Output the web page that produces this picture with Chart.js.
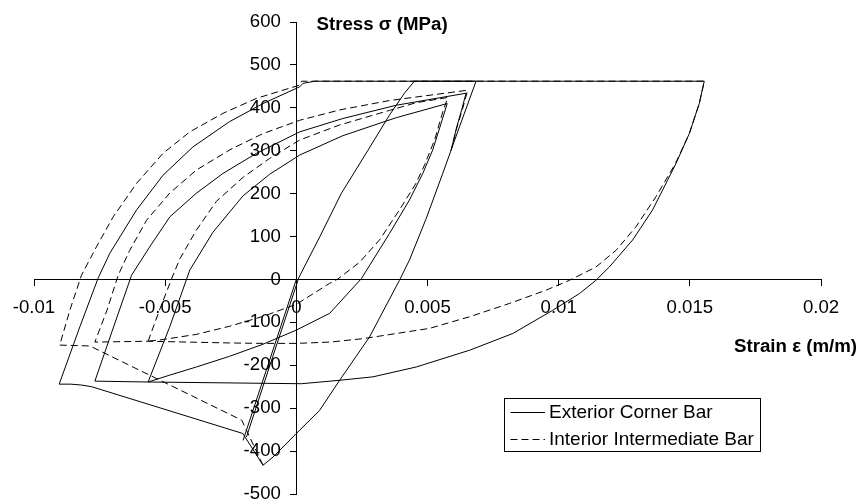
<!DOCTYPE html>
<html>
<head>
<meta charset="utf-8">
<script src="https://cdn.jsdelivr.net/npm/chart.js@4.4.1/dist/chart.umd.min.js"></script>
<style>
  html, body { margin: 0; padding: 0; background: #fff; }
  #wrap { width: 859px; height: 501px; }
</style>
</head>
<body>
<div id="wrap"><canvas id="hysteresis" width="859" height="501"></canvas></div>
<script>
// Axis ticks
const strainTicks = [-0.01, -0.005, 0, 0.005, 0.01, 0.015, 0.02];
const stressTicks = [-500, -400, -300, -200, -100, 0, 100, 200, 300, 400, 500, 600];

// Exterior Corner Bar (solid) - [strain, stress]
const cornerElastic = [[0, 0], [-0.00203, -375]];
const cornerReload = [
  [-0.0019, -367], [-0.0009, -180], [0.0001, 5], [0.00089, 99], [0.00171, 200],
  [0.00273, 301], [0.00355, 383], [0.00412, 434], [0.0045, 462], [0.00685, 462]
];
const cornerMain = [
  [0.00685, 462], [0.00622, 356], [0.00558, 247], [0.00495, 142], [0.00431, 45],
  [0.00393, -2], [0.00279, -134], [0.00165, -235], [0.00089, -305], [0, -359],
  [-0.00089, -414], [-0.00127, -433], [-0.00204, -359], [-0.0078, -250],
  [-0.0082, -246], [-0.0086, -244], [-0.00904, -244],
  [-0.00825, -110], [-0.00755, 4], [-0.00711, 61], [-0.00609, 162], [-0.00508, 243],
  [-0.00394, 309], [-0.00254, 368], [-0.00127, 410], [0.00013, 449], [0.00025, 457],
  [0.0007, 462], [0.01555, 462],
  [0.01536, 410], [0.01498, 340], [0.01447, 270], [0.01358, 162], [0.01282, 92],
  [0.01193, 29], [0.01142, -2], [0.01079, -33], [0.00977, -72], [0.00825, -126],
  [0.0066, -165], [0.00457, -204], [0.00292, -227], [0.00165, -235], [0.00019, -243],
  [-0.00565, -239], [-0.00768, -237],
  [-0.00698, -113], [-0.00628, 10], [-0.00559, 76], [-0.00482, 146], [-0.00381, 201],
  [-0.0028, 247], [-0.00152, 294], [0.00013, 344], [0.00177, 375], [0.00381, 406],
  [0.00647, 434], [0.0063, 395], [0.0061, 352], [0.0059, 301]
];
const cornerInner = [
  [-0.00565, -239], [-0.00483, -111], [-0.00406, 22], [-0.00318, 110], [-0.00203, 195],
  [-0.00102, 245], [0.00013, 290], [0.00177, 335], [0.00381, 377], [0.00575, 410],
  [0.00552, 364], [0.0052, 302], [0.00482, 247], [0.00431, 185], [0.00355, 107],
  [0.00248, 2], [0.00127, -79], [0, -118], [-0.00127, -151], [-0.00254, -179],
  [-0.00381, -204], [-0.00483, -223], [-0.00565, -239]
];

// Interior Intermediate Bar (dashed) - [strain, stress]
const interiorMain = [
  [-0.00127, -433], [-0.00208, -328], [-0.00787, -155], [-0.00902, -153],
  [-0.00863, -71], [-0.00819, 10], [-0.00762, 76], [-0.00698, 146], [-0.00609, 224],
  [-0.00508, 294], [-0.00406, 344], [-0.0028, 387], [-0.00152, 422], [0.00013, 453],
  [0.0002, 462], [0.01555, 462],
  [0.01536, 410], [0.01498, 340], [0.01445, 270], [0.01371, 193], [0.01295, 123],
  [0.01219, 68], [0.01142, 29], [0.01041, -2], [0.00952, -25], [0.00812, -56],
  [0.0066, -87], [0.00508, -114], [0.00381, -126], [0.00254, -138], [0.00127, -146],
  [0, -149], [-0.00127, -149], [-0.00254, -148], [-0.00565, -144], [-0.00768, -146],
  [-0.00722, -72], [-0.00679, 10], [-0.00635, 68], [-0.00571, 138], [-0.00483, 201],
  [-0.00381, 255], [-0.00254, 302], [-0.00127, 340], [0.00013, 371], [0.00165, 395],
  [0.00355, 417], [0.00653, 441], [0.00634, 398], [0.00612, 354], [0.0059, 301]
];
const interiorInner = [
  [-0.00565, -144], [-0.00519, -67], [-0.0047, 10], [-0.00444, 48], [-0.00381, 115],
  [-0.00305, 182], [-0.00203, 238], [-0.00102, 282], [0.00013, 325], [0.00165, 360],
  [0.00355, 394], [0.00457, 412], [0.00577, 424],
  [0.00558, 390], [0.00527, 325], [0.00489, 267], [0.00457, 225], [0.00393, 162],
  [0.00317, 92], [0.00241, 40], [0.00158, 1], [0.00127, -9], [0, -58],
  [-0.00127, -86], [-0.00254, -109], [-0.00381, -128], [-0.00508, -140], [-0.00565, -144]
];

const legendNames = ["Exterior Corner Bar", "Interior Intermediate Bar"];
const dashPattern = [7, 4];
const fontFamily = "'Liberation Sans', Arial, sans-serif";

function toPoints(pairs) {
  return pairs.map((p) => ({ x: p[0], y: p[1] }));
}

function makeSet(pairs, dashed) {
  return {
    data: toPoints(pairs),
    showLine: true,
    borderColor: "#000",
    borderWidth: 1,
    borderDash: dashed ? dashPattern : [],
    pointRadius: 0,
    tension: 0,
    fill: false,
  };
}

const datasets = [
  makeSet(interiorMain, true),
  makeSet(interiorInner, true),
  makeSet(cornerElastic, false),
  makeSet(cornerReload, false),
  makeSet(cornerMain, false),
  makeSet(cornerInner, false),
];

// axis titles and legend box
const annotations = {
  id: "annotations",
  afterDraw(chart) {
    const ctx = chart.ctx;
    ctx.save();
    ctx.fillStyle = "#000";
    ctx.textBaseline = "middle";
    ctx.textAlign = "left";
    ctx.font = "bold 18.7px " + fontFamily;
    ctx.fillText("Stress σ (MPa)", 316.5, 25);
    ctx.fillText("Strain ε (m/m)", 734, 347);

    // legend
    ctx.fillStyle = "#fff";
    ctx.fillRect(504.5, 398.5, 256, 53);
    ctx.strokeStyle = "#000";
    ctx.lineWidth = 1;
    ctx.strokeRect(504.5, 398.5, 256, 53);
    const rows = [412.5, 439.5];
    rows.forEach((y, i) => {
      ctx.beginPath();
      ctx.setLineDash(i === 1 ? dashPattern : []);
      ctx.moveTo(510.5, y);
      ctx.lineTo(545, y);
      ctx.stroke();
      ctx.setLineDash([]);
      ctx.fillStyle = "#000";
      ctx.font = "19px " + fontFamily;
      ctx.fillText(legendNames[i], 549, y + 0.5);
    });
    ctx.restore();
  },
};

function zeroPadding(scale) {
  scale.paddingLeft = 0;
  scale.paddingRight = 0;
  scale.paddingTop = 0;
  scale.paddingBottom = 0;
}

const ctx = document.getElementById("hysteresis").getContext("2d");
new Chart(ctx, {
  type: "scatter",
  data: { datasets },
  plugins: [annotations],
  options: {
    responsive: false,
    animation: false,
    devicePixelRatio: 1,
    layout: {
      autoPadding: false,
      padding: { left: 34, right: 38, top: 22, bottom: 7 },
    },
    plugins: {
      legend: { display: false },
      tooltip: { enabled: false },
    },
    scales: {
      x: {
        type: "linear",
        position: { y: 0 },
        min: -0.01,
        max: 0.02,
        afterBuildTicks: (s) => {
          s.ticks = strainTicks.map((v) => ({ value: v }));
        },
        afterFit: zeroPadding,
        grid: { drawOnChartArea: false, drawTicks: true, tickLength: 6, color: "#000" },
        border: { display: true, color: "#000", width: 1 },
        ticks: {
          autoSkip: false,
          maxRotation: 0,
          padding: 11,
          color: "#000",
          font: { family: fontFamily, size: 18.6 },
          callback: (v) => (v === 0 ? "0" : String(Number(v.toFixed(3)))),
        },
      },
      y: {
        type: "linear",
        position: { x: 0 },
        min: -500,
        max: 600,
        afterBuildTicks: (s) => {
          s.ticks = stressTicks.map((v) => ({ value: v }));
        },
        afterFit: zeroPadding,
        grid: { drawOnChartArea: false, drawTicks: true, tickLength: 6, color: "#000" },
        border: { display: true, color: "#000", width: 1 },
        ticks: {
          autoSkip: false,
          padding: 9,
          color: "#000",
          font: { family: fontFamily, size: 18.6 },
          // the axis sits inside the plot, so keep the labels clear of the tick marks
          callback: (v) => v + "   ",
        },
      },
    },
  },
});
</script>
</body>
</html>
